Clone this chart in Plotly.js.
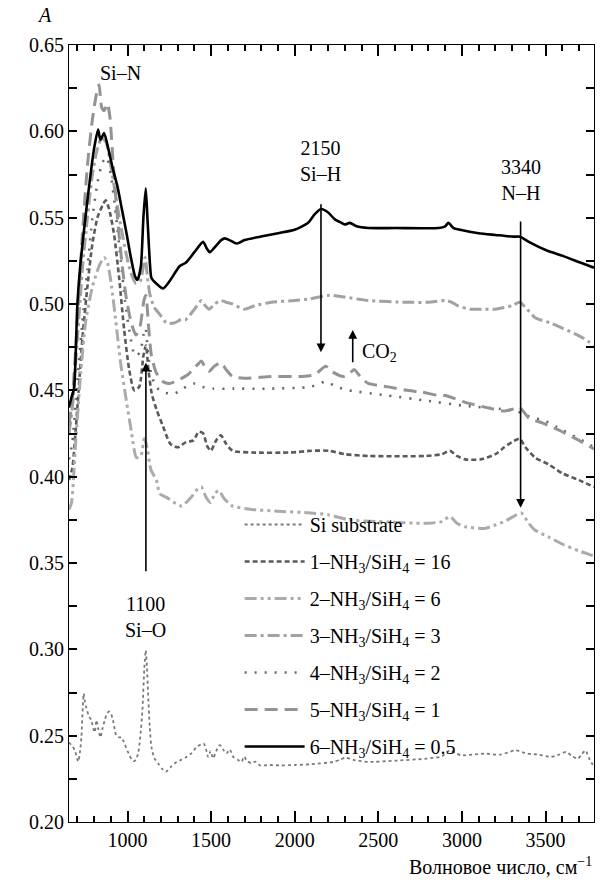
<!DOCTYPE html>
<html><head><meta charset="utf-8">
<script src="https://cdn.plot.ly/plotly-3.0.1.min.js"></script>
<style>html,body{margin:0;padding:0;background:#fff}#g{width:606px;height:881px}</style>
</head><body><div id="g"></div>
<script>
// ---- data ----
const seriesNames = ["Si substrate","1–NH<sub>3</sub>/SiH<sub>4</sub> = 16","2–NH<sub>3</sub>/SiH<sub>4</sub> = 6","3–NH<sub>3</sub>/SiH<sub>4</sub> = 3","4–NH<sub>3</sub>/SiH<sub>4</sub> = 2","5–NH<sub>3</sub>/SiH<sub>4</sub> = 1","6–NH<sub>3</sub>/SiH<sub>4</sub> = 0.5"];

const siX = [650,670,685,705,715,724,738,745,754,770,784,795,804,814,825,838,850,864,878,890,900,913,923,933,950,964,975,984,1000,1013,1025,1037,1050,1063,1075,1089,1100,1109,1116,1123,1133,1143,1160,1183,1205,1229,1260,1293,1320,1353,1385,1413,1440,1456,1470,1482,1497,1512,1530,1552,1572,1592,1612,1632,1660,1682,1697,1712,1740,1765,1792,1850,1912,2000,2100,2231,2270,2301,2350,2440,2600,2787,2880,2928,2960,2996,3060,3136,3230,3322,3391,3460,3529,3580,3624,3660,3694,3715,3738,3765,3790];
const siY = [0.246,0.244,0.2415,0.235,0.240,0.249,0.2744,0.270,0.266,0.261,0.259,0.254,0.252,0.259,0.254,0.249,0.254,0.259,0.263,0.264,0.263,0.259,0.254,0.250,0.249,0.249,0.247,0.245,0.241,0.2386,0.236,0.2352,0.236,0.2396,0.248,0.2647,0.288,0.2995,0.290,0.2744,0.255,0.2435,0.237,0.2339,0.231,0.229,0.232,0.2347,0.236,0.2377,0.240,0.2435,0.245,0.2454,0.242,0.2377,0.241,0.2368,0.241,0.2445,0.242,0.2397,0.242,0.2377,0.236,0.2348,0.238,0.2357,0.234,0.235,0.2328,0.233,0.2328,0.2330,0.2335,0.2348,0.236,0.2373,0.236,0.2348,0.2355,0.2367,0.238,0.2415,0.240,0.2386,0.239,0.2396,0.239,0.2415,0.2396,0.239,0.2377,0.239,0.2406,0.238,0.2367,0.239,0.2415,0.236,0.2319];

const c1X = [650,670,700,730,760,790,820,850,870,890,920,950,980,1010,1040,1070,1095,1110,1125,1145,1173,1213,1256,1300,1350,1395,1425,1453,1475,1498,1530,1558,1590,1628,1744,1976,2100,2208,2300,2440,2787,2880,2928,2970,3020,3113,3200,3253,3300,3345,3380,3438,3520,3600,3700,3790];
const c1Y = [0.398,0.405,0.44,0.48,0.51,0.535,0.55,0.557,0.56,0.555,0.54,0.515,0.485,0.462,0.45,0.452,0.47,0.476,0.462,0.448,0.439,0.429,0.419,0.417,0.420,0.421,0.426,0.425,0.418,0.415,0.421,0.424,0.419,0.415,0.414,0.414,0.415,0.415,0.413,0.412,0.412,0.413,0.415,0.412,0.410,0.410,0.413,0.417,0.420,0.422,0.417,0.411,0.407,0.402,0.398,0.394];

const c2X = [650,665,690,720,750,790,830,860,880,905,930,960,993,1025,1053,1080,1100,1115,1140,1173,1193,1233,1280,1325,1380,1420,1442,1470,1498,1520,1546,1580,1628,1744,1900,2092,2200,2324,2500,2787,2880,2928,2970,3020,3136,3200,3253,3310,3355,3400,3438,3520,3600,3700,3790];
const c2Y = [0.381,0.385,0.42,0.46,0.49,0.51,0.522,0.527,0.524,0.51,0.49,0.465,0.444,0.425,0.411,0.412,0.422,0.418,0.404,0.398,0.390,0.388,0.385,0.383,0.388,0.393,0.394,0.388,0.385,0.390,0.392,0.387,0.383,0.381,0.380,0.379,0.378,0.375,0.374,0.373,0.374,0.377,0.373,0.371,0.370,0.372,0.374,0.377,0.379,0.373,0.369,0.365,0.361,0.357,0.354];

const c3X = [650,670,700,730,760,790,820,845,870,900,930,960,990,1020,1050,1075,1095,1105,1120,1133,1160,1193,1233,1279,1320,1349,1400,1442,1465,1488,1520,1558,1590,1628,1697,1760,1860,2000,2092,2208,2300,2440,2673,2800,2904,2940,2974,3050,3137,3200,3253,3300,3345,3390,3438,3529,3600,3670,3730,3790];
const c3Y = [0.425,0.44,0.48,0.52,0.55,0.575,0.59,0.596,0.594,0.58,0.562,0.545,0.53,0.518,0.512,0.513,0.522,0.527,0.515,0.506,0.498,0.494,0.489,0.489,0.491,0.491,0.497,0.502,0.499,0.497,0.500,0.502,0.501,0.500,0.497,0.499,0.501,0.502,0.503,0.505,0.504,0.502,0.501,0.501,0.502,0.501,0.499,0.497,0.497,0.497,0.498,0.499,0.501,0.497,0.492,0.489,0.486,0.483,0.480,0.476];

const c4X = [650,670,700,730,760,790,820,850,875,900,930,960,985,1015,1045,1075,1095,1108,1122,1140,1170,1210,1279,1330,1395,1450,1511,1628,1860,2092,2185,2250,2324,2557,2787,3020,3253,3355,3420,3484,3600,3700,3790];
const c4Y = [0.41,0.42,0.455,0.49,0.52,0.55,0.57,0.582,0.585,0.575,0.552,0.525,0.502,0.482,0.47,0.472,0.482,0.486,0.472,0.46,0.452,0.449,0.448,0.451,0.454,0.452,0.451,0.451,0.451,0.452,0.455,0.452,0.450,0.447,0.444,0.441,0.439,0.437,0.434,0.433,0.427,0.422,0.417];

const c5X = [650,670,700,730,760,790,815,830,845,860,880,895,915,940,965,990,1020,1050,1075,1098,1110,1125,1143,1173,1213,1250,1303,1360,1420,1442,1465,1488,1520,1558,1590,1628,1700,1860,2046,2120,2185,2220,2290,2330,2355,2400,2440,2560,2673,2760,2858,2900,3020,3150,3253,3300,3345,3400,3484,3600,3700,3790];
const c5Y = [0.43,0.445,0.49,0.54,0.58,0.607,0.622,0.627,0.614,0.612,0.616,0.608,0.58,0.55,0.525,0.505,0.49,0.482,0.487,0.502,0.505,0.488,0.470,0.460,0.455,0.454,0.456,0.459,0.465,0.467,0.463,0.461,0.464,0.466,0.462,0.458,0.457,0.458,0.458,0.459,0.464,0.461,0.458,0.460,0.462,0.457,0.454,0.452,0.450,0.449,0.447,0.447,0.443,0.440,0.438,0.439,0.440,0.434,0.431,0.426,0.421,0.416];

const c6X = [650,665,680,700,720,760,800,824,838,860,885,913,940,964,994,1020,1045,1060,1080,1095,1109,1120,1135,1143,1170,1213,1250,1290,1313,1350,1400,1452,1475,1492,1532,1560,1582,1610,1652,1700,1792,1900,1999,2080,2120,2157,2200,2240,2280,2300,2330,2370,2440,2600,2860,2900,2919,2950,2989,3100,3200,3308,3348,3400,3508,3600,3708,3790];
const c6Y = [0.440,0.446,0.451,0.500,0.525,0.560,0.590,0.601,0.595,0.599,0.590,0.578,0.568,0.556,0.541,0.527,0.516,0.514,0.522,0.550,0.567,0.548,0.522,0.515,0.512,0.509,0.513,0.519,0.522,0.524,0.530,0.536,0.532,0.530,0.534,0.537,0.538,0.537,0.535,0.537,0.539,0.541,0.543,0.547,0.552,0.555,0.553,0.549,0.547,0.546,0.547,0.545,0.544,0.544,0.544,0.545,0.547,0.544,0.543,0.541,0.540,0.539,0.539,0.536,0.531,0.528,0.524,0.521];

const allX = [siX,c1X,c2X,c3X,c4X,c5X,c6X];
const allY = [siY,c1Y,c2Y,c3Y,c4Y,c5Y,c6Y];
const lineStyles = [
  {color:'#7a7a7a', width:1.8, dash:'dot'},
  {color:'#5a5a5a', width:2.6, dash:'5px,3px'},
  {color:'#ababab', width:3, dash:'12px,4px,3px,4px,3px,4px'},
  {color:'#a2a2a2', width:3, dash:'12px,4px,3px,4px'},
  {color:'#666666', width:2.6, dash:'2px,8px'},
  {color:'#939393', width:3, dash:'13px,7px'},
  {color:'#000000', width:2.6, dash:'solid'}
];

const fam = 'Liberation Serif';
const plotTraces = seriesNames.map((n,i)=>({
  type:'scatter', mode:'lines', x:allX[i], y:allY[i], name:n, legendgroup:'g'+i,
  line:Object.assign({shape:'spline', smoothing:0.6}, lineStyles[i])
}));

function mkArrow(x, yTip, yTail){
  return {x:x, y:yTip, xref:'x', yref:'y', axref:'x', ayref:'y', ax:x, ay:yTail,
    text:' ', showarrow:true, arrowhead:2, arrowsize:1.1, arrowwidth:1.6, arrowcolor:'#000', standoff:0, startstandoff:0};
}
function mkText(x, y, t, extra){
  return Object.assign({x:x, y:y, xref:'x', yref:'y', text:t, showarrow:false,
    font:{family:fam, size:20, color:'#000'}}, extra||{});
}

const figLayout = {
  width:606, height:881,
  margin:{l:69, r:12, t:45, b:59},
  font:{family:fam, size:20, color:'#000'},
  showlegend:true,
  legend:{x:0.325, y:0.408, xanchor:'left', yanchor:'top', bgcolor:'rgba(0,0,0,0)',
    font:{family:fam, size:20, color:'#000'}, itemwidth:60, tracegroupgap:8},
  xaxis:{range:[650,3790], showgrid:false, zeroline:false, showline:true, linecolor:'#000',
    mirror:'allticks', ticks:'inside', ticklen:11, tickwidth:2, tickcolor:'#000', dtick:500,
    tickfont:{family:fam, size:20, color:'#000'},
    minor:{dtick:100, ticks:'inside', ticklen:6, tickcolor:'#000'}},
  yaxis:{range:[0.20,0.65], showgrid:false, zeroline:false, showline:true, linecolor:'#000',
    mirror:'allticks', ticks:'inside', ticklen:8, tickwidth:2, tickcolor:'#000', dtick:0.05, tickformat:'.2f',
    tickfont:{family:fam, size:20, color:'#000'},
    minor:{dtick:0.025, ticks:'inside', ticklen:8, tickcolor:'#000'}},
  annotations:[
    {xref:'paper', yref:'paper', x:-0.046, y:1.039, xanchor:'center', yanchor:'middle', text:'<i>A</i>', showarrow:false, font:{family:fam, size:20}},
    {xref:'paper', yref:'paper', x:1.0, y:-0.056, xanchor:'right', yanchor:'middle', text:'Волновое число, см<sup>−1</sup>', showarrow:false, font:{family:fam, size:20}},
    mkText(960, 0.634, 'Si–N'),
    mkText(2157, 0.583, '2150<br>Si–H'),
    mkText(3351, 0.572, '3340<br>N–H'),
    mkText(1110, 0.319, '1100<br>Si–O'),
    mkText(2388, 0.472, 'CO<sub>2</sub>', {xanchor:'left'}),
    mkArrow(2157, 0.472, 0.565),
    mkArrow(3351, 0.382, 0.555),
    mkArrow(1110, 0.466, 0.338),
    mkArrow(2347, 0.485, 0.459)
  ]
};
Plotly.newPlot('g', plotTraces, figLayout, {staticPlot:true});
</script></body></html>
